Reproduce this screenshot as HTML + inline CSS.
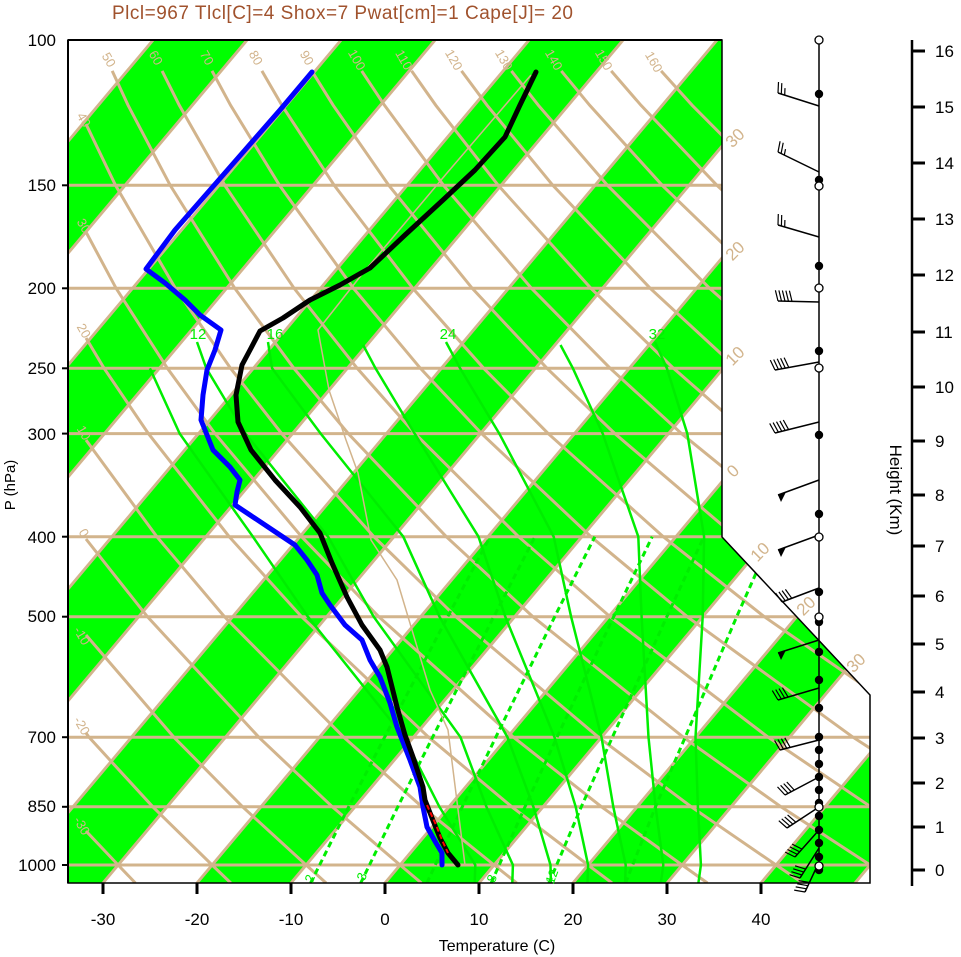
<!DOCTYPE html>
<html><head><meta charset="utf-8"><style>
html,body{margin:0;padding:0;background:#fff;}
svg{display:block;font-family:"Liberation Sans",sans-serif;}
</style></head><body>
<svg width="961" height="957" viewBox="0 0 961 957" xmlns="http://www.w3.org/2000/svg">
<defs>
<clipPath id="cp"><path d="M68,40 L722,40 L722,537 L870,695 L870,883 L68,883 Z"/></clipPath>
</defs>
<rect width="961" height="957" fill="#fff"/>
<g clip-path="url(#cp)">
 <g transform="translate(741.72,0) skewX(-40.03)" fill="#00ff00">
   <rect x="-555" y="40" width="94" height="843"/><rect x="-367" y="40" width="94" height="843"/><rect x="-179" y="40" width="94" height="843"/><rect x="9" y="40" width="94" height="843"/><rect x="197" y="40" width="94" height="843"/><rect x="385" y="40" width="94" height="843"/><rect x="573" y="40" width="94" height="843"/><rect x="761" y="40" width="94" height="843"/>
 </g>
 <g transform="translate(741.72,0) skewX(-40.03)" stroke="#d2b48c" stroke-width="3.8">
   <line x1="-837" y1="40" x2="-837" y2="883"/><line x1="-743" y1="40" x2="-743" y2="883"/><line x1="-649" y1="40" x2="-649" y2="883"/><line x1="-555" y1="40" x2="-555" y2="883"/><line x1="-461" y1="40" x2="-461" y2="883"/><line x1="-367" y1="40" x2="-367" y2="883"/><line x1="-273" y1="40" x2="-273" y2="883"/><line x1="-179" y1="40" x2="-179" y2="883"/><line x1="-85" y1="40" x2="-85" y2="883"/><line x1="9" y1="40" x2="9" y2="883"/><line x1="103" y1="40" x2="103" y2="883"/><line x1="197" y1="40" x2="197" y2="883"/><line x1="291" y1="40" x2="291" y2="883"/><line x1="385" y1="40" x2="385" y2="883"/><line x1="479" y1="40" x2="479" y2="883"/><line x1="573" y1="40" x2="573" y2="883"/><line x1="667" y1="40" x2="667" y2="883"/><line x1="761" y1="40" x2="761" y2="883"/><line x1="855" y1="40" x2="855" y2="883"/>
 </g>
 <g stroke="#d2b48c" stroke-width="3">
  <line x1="68" y1="185.3" x2="880" y2="185.3"/><line x1="68" y1="288.3" x2="880" y2="288.3"/><line x1="68" y1="368.3" x2="880" y2="368.3"/><line x1="68" y1="433.6" x2="880" y2="433.6"/><line x1="68" y1="536.7" x2="880" y2="536.7"/><line x1="68" y1="616.7" x2="880" y2="616.7"/><line x1="68" y1="737.2" x2="880" y2="737.2"/><line x1="68" y1="806.8" x2="880" y2="806.8"/><line x1="68" y1="865" x2="880" y2="865"/>
 </g>
 <g stroke="#d2b48c" stroke-width="3" fill="none">
  <polyline points="135.4,883 118.1,865 86,831"/>
  <polyline points="230.8,883 212.1,865 152.8,806.8 89,737.2 86,733"/>
  <polyline points="326.1,883 306.1,865 242.6,806.8 173.9,737.2 86,635"/>
  <polyline points="421.4,883 400.1,865 332.3,806.8 258.8,737.2 147.4,616.7 86,539"/>
  <polyline points="516.7,883 494.1,865 422,806.8 343.7,737.2 224.5,616.7 156.9,536.7 86,440"/>
  <polyline points="612,883 588.1,865 511.8,806.8 428.6,737.2 301.6,616.7 229.2,536.7 148.4,433.6 104.1,368.3 86,338"/>
  <polyline points="707.4,883 682.1,865 601.5,806.8 513.5,737.2 378.7,616.7 301.6,536.7 215,433.6 167.4,368.3 116.1,288.3 86,232"/>
  <polyline points="802.7,883 776.1,865 691.3,806.8 598.4,737.2 455.8,616.7 373.9,536.7 281.7,433.6 230.6,368.3 175.4,288.3 115.5,185.3 86,124"/>
  <polyline points="898,883 870.1,865 781,806.8 683.3,737.2 532.9,616.7 446.3,536.7 348.3,433.6 293.9,368.3 234.8,288.3 170.2,185.3 128.1,105.3 112.2,70.9"/>
  <polyline points="993.3,883 964.1,865 870.7,806.8 768.1,737.2 610.1,616.7 518.6,536.7 415,433.6 357.2,368.3 294.1,288.3 224.8,185.3 179.3,105.3 162.1,70.9"/>
  <polyline points="1088.6,883 1058.1,865 960.5,806.8 853,737.2 687.2,616.7 591,536.7 481.6,433.6 420.4,368.3 353.5,288.3 279.5,185.3 230.6,105.3 212,70.9"/>
  <polyline points="1050.2,806.8 937.9,737.2 764.3,616.7 663.3,536.7 548.2,433.6 483.7,368.3 412.8,288.3 334.2,185.3 281.9,105.3 261.9,70.9"/>
  <polyline points="1022.8,737.2 841.4,616.7 735.7,536.7 614.9,433.6 547,368.3 472.2,288.3 388.8,185.3 333.2,105.3 311.8,70.9"/>
  <polyline points="918.5,616.7 808,536.7 681.5,433.6 610.2,368.3 531.5,288.3 443.5,185.3 384.5,105.3 361.7,70.9"/>
  <polyline points="995.6,616.7 880.4,536.7 748.1,433.6 673.5,368.3 590.9,288.3 498.2,185.3 435.8,105.3 411.6,70.9"/>
  <polyline points="952.7,536.7 814.8,433.6 736.7,368.3 650.2,288.3 552.8,185.3 487.1,105.3 461.5,70.9"/>
  <polyline points="1025.1,536.7 881.4,433.6 800,368.3 709.6,288.3 607.5,185.3 538.4,105.3 511.4,70.9"/>
  <polyline points="948.1,433.6 863.2,368.3 768.9,288.3 662.2,185.3 589.7,105.3 561.3,70.9"/>
  <polyline points="1014.7,433.6 926.5,368.3 828.3,288.3 716.9,185.3 641,105.3 611.2,70.9"/>
  <polyline points="989.8,368.3 887.6,288.3 771.5,185.3 692.2,105.3 661.1,70.9"/>
 </g>
 <g stroke="#00ee00" stroke-width="3" fill="none" stroke-dasharray="6,4">
  <polyline points="310.6,883 348.7,806.8 384.6,737.2 447.7,616.7 490.1,536.7"/>
  <polyline points="360.7,883 397.8,806.8 432.6,737.2 493.8,616.7 535,536.7"/>
  <polyline points="426.9,883 462.3,806.8 495.8,737.2 554.7,616.7 594.8,536.7"/>
  <polyline points="491.2,883 525,806.8 557,737.2 613.7,616.7 652.2,536.7"/>
  <polyline points="549,883 581.3,806.8 612.4,737.2 666.8,616.7 703.9,536.7"/>
  <polyline points="625.6,883 655.5,806.8 685.2,737.2 736.7,616.7 772.2,536.7"/>
 </g>
 <g stroke="#00ee00" stroke-width="2.5" fill="none">
  <polyline points="474.7,883 475.3,865 439.4,806.8 404.1,737.2 307.9,616.7 252.9,536.7 179.7,433.6 149.9,368.3"/>
  <polyline points="512.3,883 512.9,865 486.4,806.8 460.5,737.2 373.7,616.7 328.1,536.7 245.5,433.6 206.3,368.3 197,342"/>
  <polyline points="550.9,883 550.5,865 533.4,806.8 507.5,737.2 439.5,616.7 403.3,536.7 320.7,433.6 272.1,368.3 268,342"/>
  <polyline points="587.5,883 588.1,865 575.7,806.8 554.5,737.2 505.3,616.7 478.5,536.7 414.7,433.6 375.5,368.3 363.1,345"/>
  <polyline points="625.1,883 625.7,865 613.3,806.8 601.5,737.2 571.1,616.7 553.7,536.7 499.3,433.6 460.1,368.3 446,342"/>
  <polyline points="660.8,883 663.3,865 655.6,806.8 648.5,737.2 641.6,616.7 638.3,536.7 602.7,433.6 572.9,368.3 560.5,345"/>
  <polyline points="698.4,883 700.9,865 697.9,806.8 695.5,737.2 702.7,616.7 704.1,536.7 687.3,433.6 666.9,368.3 655,342"/>
 </g>
 <polyline points="531,75 447,173 363,273 318,330 329,390 346,440 358,473 371,540 397,580 430,690 448,730 465,865" fill="none" stroke="#d2b48c" stroke-width="1.5"/>
</g>
<polyline points="312,72 280,110 245,150 210,190 175,230 146,269 165,283 185,300 200,315 221,330 215,350 207,370 203,395 201,420 213,450 230,467 240,480 237,492 235,505 250,515 277,533 295,545 307,560 317,575 322,593 330,605 345,625 362,640 370,660 380,677 390,703 397,727 410,760 420,787 423,807 427,827 436,843 442,853 442,865" fill="none" stroke="#0000ff" stroke-width="5" stroke-linejoin="round" stroke-linecap="round"/>
<polyline points="536,72 520,105 505,137 475,170 443,200 405,235 370,268 340,285 310,300 283,318 260,331 250,350 242,365 236,395 238,422 251,450 275,480 300,507 320,533 332,563 347,597 362,625 380,650 387,667 397,707 405,735 413,757 423,787 425,800 432,818 440,838 448,853 458,865" fill="none" stroke="#000" stroke-width="5" stroke-linejoin="round" stroke-linecap="round"/>
<polyline points="427,805 436,825 442,840 448,853" fill="none" stroke="#ff0000" stroke-width="2" stroke-dasharray="5,3"/>
<path d="M68,40 L722,40 L722,537 L870,695 L870,883 L68,883 Z" fill="none" stroke="#000" stroke-width="1.5"/>
<line x1="68" y1="40" x2="722" y2="40" stroke="#000" stroke-width="2"/>
<line x1="68" y1="40" x2="68" y2="883" stroke="#000" stroke-width="2"/>
<g stroke="#000" stroke-width="2">
<line x1="62" y1="185.3" x2="68" y2="185.3"/><line x1="62" y1="288.3" x2="68" y2="288.3"/><line x1="62" y1="368.3" x2="68" y2="368.3"/><line x1="62" y1="433.6" x2="68" y2="433.6"/><line x1="62" y1="536.7" x2="68" y2="536.7"/><line x1="62" y1="616.7" x2="68" y2="616.7"/><line x1="62" y1="737.2" x2="68" y2="737.2"/><line x1="62" y1="806.8" x2="68" y2="806.8"/><line x1="62" y1="865" x2="68" y2="865"/>
</g>
<g stroke="#000" stroke-width="3">
<line x1="103" y1="883" x2="103" y2="894"/><line x1="197" y1="883" x2="197" y2="894"/><line x1="291" y1="883" x2="291" y2="894"/><line x1="385" y1="883" x2="385" y2="894"/><line x1="479" y1="883" x2="479" y2="894"/><line x1="573" y1="883" x2="573" y2="894"/><line x1="667" y1="883" x2="667" y2="894"/><line x1="761" y1="883" x2="761" y2="894"/>
</g>
<text x="112" y="19" font-size="19" fill="#a0522d" textLength="461">Plcl=967 Tlcl[C]=4 Shox=7 Pwat[cm]=1 Cape[J]= 20</text>
<g font-size="17" fill="#000" text-anchor="end">
<text x="56" y="46">100</text><text x="56" y="191">150</text><text x="56" y="294">200</text><text x="56" y="374">250</text><text x="56" y="440">300</text><text x="56" y="543">400</text><text x="56" y="622">500</text><text x="56" y="743">700</text><text x="56" y="812">850</text><text x="56" y="871">1000</text>
</g>
<text transform="translate(15,485) rotate(-90)" font-size="15" text-anchor="middle">P (hPa)</text>
<g font-size="17" fill="#000" text-anchor="middle">
<text x="103" y="925">-30</text><text x="197" y="925">-20</text><text x="291" y="925">-10</text><text x="385" y="925">0</text><text x="479" y="925">10</text><text x="573" y="925">20</text><text x="667" y="925">30</text><text x="761" y="925">40</text>
</g>
<text x="497" y="951" font-size="16" text-anchor="middle">Temperature (C)</text>
<g font-size="13" fill="#d2b48c" text-anchor="middle">
<text transform="translate(105,62) rotate(60)">50</text><text transform="translate(152,60) rotate(60)">60</text><text transform="translate(203,60) rotate(60)">70</text><text transform="translate(252,60) rotate(60)">80</text><text transform="translate(303,60) rotate(60)">90</text><text transform="translate(353,62) rotate(60)">100</text><text transform="translate(400,62) rotate(60)">110</text><text transform="translate(450,62) rotate(60)">120</text><text transform="translate(500,62) rotate(60)">130</text><text transform="translate(550,62) rotate(60)">140</text><text transform="translate(600,62) rotate(60)">150</text><text transform="translate(650,64) rotate(60)">160</text>
<text transform="translate(80,122) rotate(60)">40</text><text transform="translate(80,228) rotate(60)">30</text><text transform="translate(80,333) rotate(60)">20</text><text transform="translate(80,435) rotate(60)">10</text><text transform="translate(80,535) rotate(60)">0</text><text transform="translate(78,638) rotate(60)">-10</text><text transform="translate(78,728) rotate(60)">-20</text><text transform="translate(78,828) rotate(60)">-30</text>
</g>
<g font-size="17" fill="#d2b48c" text-anchor="middle">
<text transform="translate(739,142) rotate(-45)">30</text><text transform="translate(739,255) rotate(-45)">20</text><text transform="translate(739,360) rotate(-45)">10</text><text transform="translate(737,475) rotate(-45)">0</text><text transform="translate(764,556) rotate(-45)">10</text><text transform="translate(810,610) rotate(-45)">20</text><text transform="translate(860,667) rotate(-45)">30</text>
</g>
<g font-size="15" fill="#00ee00" text-anchor="middle">
<text x="198" y="339">12</text><text x="275" y="339">16</text><text x="448" y="339">24</text><text x="657" y="339">32</text>
</g>
<g font-size="13" fill="#00ee00" text-anchor="middle">
<text transform="translate(314,880) rotate(-70)">2</text><text transform="translate(366,878) rotate(-70)">3</text><text transform="translate(496,880) rotate(-70)">8</text><text transform="translate(556,878) rotate(-70)">12</text>
</g>
<line x1="819" y1="40" x2="819" y2="870" stroke="#000" stroke-width="1.5"/>
<g stroke="#000" stroke-width="1.5" fill="none">
<path d="M819,106 L778,93 M819,172 L778,152 M819,237 L778,225 M819,302 L778,301 M819,362 L775,370 M819,422 L775,433 M819,480 L778,495 M819,535 L778,550 M819,588 L782,602 M819,640 L778,653 M819,688 L778,700 M819,740 L780,750 M819,777 L785,795 M819,807 L787,828 M819,830 L795,857 M819,848 L800,878 M819,862 L805,892"/>
</g>
<g stroke="#000" stroke-width="1.2" fill="none">
<path d="M778,93 l0.5,-11 M781.3,94.1 l0.5,-11 M784.7,95.1 l0.3,-7"/>
<path d="M778,152 l2.1,-10.8 M781.1,153.5 l2.1,-10.8 M784.3,155.1 l1.2,-6"/>
<path d="M778,225 l0.3,-11 M781.4,226 l0.3,-11 M784.7,227 l0.2,-7"/>
<path d="M778,301 l-2.6,-10.7 M781.5,301.1 l-2.6,-10.7 M785,301.2 l-2.6,-10.7 M788.5,301.3 l-2.6,-10.7 M792,301.4 l-2.6,-10.7"/>
<path d="M775,370 l-4.7,-9.9 M778.4,369.4 l-4.7,-9.9 M781.9,368.7 l-4.7,-9.9 M785.3,368.1 l-4.7,-9.9 M788.8,367.5 l-4.7,-9.9"/>
<path d="M775,433 l-5.3,-9.6 M778.4,432.2 l-5.3,-9.6 M781.8,431.3 l-5.3,-9.6 M785.2,430.5 l-5.3,-9.6 M788.6,429.6 l-5.3,-9.6"/>
<path d="M782,602 l-6.4,-8.9 M785.3,600.8 l-6.4,-8.9 M788.5,599.5 l-6.4,-8.9 M791.8,598.3 l-6.4,-8.9"/>
<path d="M778,700 l-5.7,-9.4 M781.4,699 l-5.7,-9.4 M784.7,698 l-5.7,-9.4 M788.1,697.1 l-5.7,-9.4"/>
<path d="M780,750 l-5.4,-9.6 M783.4,749.1 l-5.4,-9.6 M786.8,748.3 l-5.4,-9.6 M790.2,747.4 l-5.4,-9.6"/>
<path d="M785,795 l-7.5,-8.1 M788.1,793.4 l-7.5,-8.1 M791.2,791.7 l-7.5,-8.1 M794.3,790.1 l-7.5,-8.1"/>
<path d="M787,828 l-8.2,-7.3 M789.9,826.1 l-8.2,-7.3 M792.9,824.2 l-8.2,-7.3 M795.8,822.2 l-8.2,-7.3"/>
<path d="M795,857 l-9.8,-4.9 M797.3,854.4 l-9.8,-4.9 M799.7,851.8 l-9.8,-4.9 M802,849.1 l-9.8,-4.9"/>
<path d="M800,878 l-10.5,-3.3 M801.9,875 l-10.5,-3.3 M803.7,872.1 l-10.5,-3.3 M805.6,869.1 l-10.5,-3.3"/>
<path d="M805,892 l-10.8,-1.9 M806.5,888.8 l-10.8,-1.9 M808,885.7 l-10.8,-1.9 M809.4,882.5 l-10.8,-1.9"/>
</g>
<g fill="#000">
<polygon points="778,495 786,492 781,502"/><polygon points="778,550 786,547 781,557"/><polygon points="778,653 786,650 781,660"/>
</g>
<g fill="#000">
<circle cx="819" cy="94" r="4.2"/><circle cx="819" cy="180" r="4.2"/><circle cx="819" cy="266" r="4.2"/><circle cx="819" cy="351" r="4.2"/><circle cx="819" cy="435" r="4.2"/><circle cx="819" cy="514" r="4.2"/><circle cx="819" cy="592" r="4.2"/><circle cx="819" cy="622" r="4.2"/><circle cx="819" cy="652" r="4.2"/><circle cx="819" cy="680" r="4.2"/><circle cx="819" cy="708" r="4.2"/><circle cx="819" cy="737" r="4.2"/><circle cx="819" cy="750" r="4.2"/><circle cx="819" cy="764" r="4.2"/><circle cx="819" cy="777" r="4.2"/><circle cx="819" cy="790" r="4.2"/><circle cx="819" cy="803" r="4.2"/><circle cx="819" cy="816" r="4.2"/><circle cx="819" cy="830" r="4.2"/><circle cx="819" cy="843" r="4.2"/><circle cx="819" cy="857" r="4.2"/><circle cx="819" cy="870" r="4.2"/>
</g>
<g fill="#fff" stroke="#000" stroke-width="1.3">
<circle cx="819" cy="40" r="4"/><circle cx="819" cy="186" r="4"/><circle cx="819" cy="288" r="4"/><circle cx="819" cy="368" r="4"/><circle cx="819" cy="537" r="4"/><circle cx="819" cy="617" r="4"/><circle cx="819" cy="807" r="4"/><circle cx="819" cy="866" r="4"/>
</g>
<line x1="912" y1="40" x2="912" y2="886" stroke="#000" stroke-width="2.5"/>
<g stroke="#000" stroke-width="3">
<line x1="911" y1="51" x2="925" y2="51"/><line x1="911" y1="107" x2="925" y2="107"/><line x1="911" y1="163" x2="925" y2="163"/><line x1="911" y1="219" x2="925" y2="219"/><line x1="911" y1="275" x2="925" y2="275"/><line x1="911" y1="332" x2="925" y2="332"/><line x1="911" y1="387" x2="925" y2="387"/><line x1="911" y1="441" x2="925" y2="441"/><line x1="911" y1="495" x2="925" y2="495"/><line x1="911" y1="546" x2="925" y2="546"/><line x1="911" y1="596" x2="925" y2="596"/><line x1="911" y1="644" x2="925" y2="644"/><line x1="911" y1="692" x2="925" y2="692"/><line x1="911" y1="738" x2="925" y2="738"/><line x1="911" y1="783" x2="925" y2="783"/><line x1="911" y1="827" x2="925" y2="827"/><line x1="911" y1="870" x2="925" y2="870"/>
</g>
<g font-size="17" fill="#000">
<text x="935" y="57">16</text><text x="935" y="113">15</text><text x="935" y="169">14</text><text x="935" y="225">13</text><text x="935" y="281">12</text><text x="935" y="338">11</text><text x="935" y="393">10</text><text x="935" y="447">9</text><text x="935" y="501">8</text><text x="935" y="552">7</text><text x="935" y="602">6</text><text x="935" y="650">5</text><text x="935" y="698">4</text><text x="935" y="744">3</text><text x="935" y="789">2</text><text x="935" y="833">1</text><text x="935" y="876">0</text>
</g>
<text transform="translate(890,490) rotate(90)" font-size="17" text-anchor="middle">Height (Km)</text>
</svg>
</body></html>
